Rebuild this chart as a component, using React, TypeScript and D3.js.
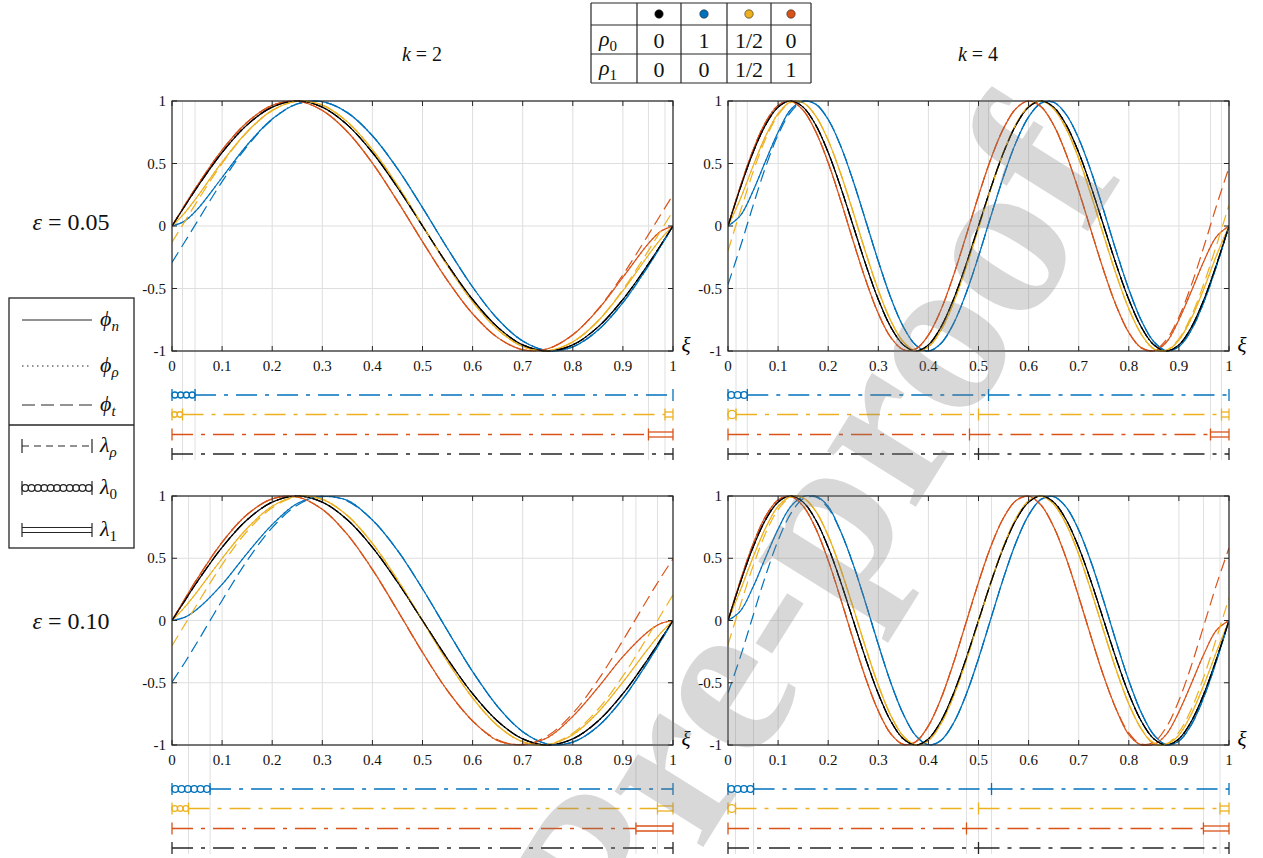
//@ts-nocheck
import * as d3 from "d3";
import { useEffect, useRef } from "react";

// sample positions along xi
const xiK2 = [0, 0.025, 0.05, 0.1, 0.15, 0.2, 0.25, 0.3, 0.35, 0.4, 0.45, 0.5, 0.55, 0.6, 0.65, 0.7, 0.75, 0.8, 0.85, 0.9, 0.95, 0.975, 1];
const xiK4 = d3.range(41).map(i => i / 40);

const xTicks = [0, 0.1, 0.2, 0.3, 0.4, 0.5, 0.6, 0.7, 0.8, 0.9, 1];
const xTickLabels = ["0", "0.1", "0.2", "0.3", "0.4", "0.5", "0.6", "0.7", "0.8", "0.9", "1"];
const yTicks = [-1, -0.5, 0, 0.5, 1];
const yTickLabels = ["-1", "-0.5", "0", "0.5", "1"];

// rho0 = rho1 = 0 (black)
const blackK2 = [0, 0.156, 0.309, 0.588, 0.809, 0.951, 1, 0.951, 0.809, 0.588, 0.309, 0, -0.309, -0.588, -0.809, -0.951, -1, -0.951, -0.809, -0.588, -0.309, -0.156, 0];
const blackK4 = [0, 0.309, 0.588, 0.809, 0.951, 1, 0.951, 0.809, 0.588, 0.309, 0, -0.309, -0.588, -0.809, -0.951, -1, -0.951, -0.809, -0.588, -0.309, 0, 0.309, 0.588, 0.809, 0.951, 1, 0.951, 0.809, 0.588, 0.309, 0, -0.309, -0.588, -0.809, -0.951, -1, -0.951, -0.809, -0.588, -0.309, 0];

// eps = 0.05, k = 2
const blueN_a2 = [0, 0.039, 0.131, 0.388, 0.648, 0.856, 0.978, 0.995, 0.907, 0.722, 0.459, 0.147, -0.18, -0.488, -0.744, -0.92, -0.997, -0.967, -0.834, -0.613, -0.324, -0.164, 0];
const blueT_a2 = [-0.291, -0.13, 0.033, 0.355, 0.637, 0.852, 0.976, 0.994, 0.907, 0.722, 0.459, 0.147, -0.18, -0.488, -0.744, -0.92, -0.997, -0.967, -0.834, -0.613, -0.324, -0.164, 0];
const yellowN_a2 = [0, 0.103, 0.232, 0.511, 0.754, 0.925, 0.998, 0.967, 0.833, 0.611, 0.325, 0.004, -0.318, -0.606, -0.828, -0.964, -0.998, -0.927, -0.762, -0.518, -0.238, -0.107, 0];
const yellowT_a2 = [-0.13, 0.033, 0.195, 0.5, 0.751, 0.923, 0.998, 0.967, 0.833, 0.611, 0.325, 0.004, -0.318, -0.606, -0.828, -0.964, -0.998, -0.927, -0.76, -0.508, -0.203, -0.042, 0.121];
const redN_a2 = [0, 0.163, 0.321, 0.608, 0.83, 0.965, 0.998, 0.925, 0.754, 0.503, 0.199, -0.125, -0.437, -0.702, -0.893, -0.99, -0.982, -0.87, -0.671, -0.41, -0.145, -0.044, 0];
const redT_a2 = [0, 0.163, 0.321, 0.608, 0.83, 0.965, 0.998, 0.925, 0.754, 0.503, 0.199, -0.125, -0.437, -0.702, -0.893, -0.99, -0.982, -0.87, -0.666, -0.391, -0.075, 0.088, 0.249];

// eps = 0.05, k = 4
const blueN_a4 = [0, 0.085, 0.28, 0.52, 0.75, 0.93, 0.999, 0.975, 0.852, 0.639, 0.358, 0.04, -0.282, -0.575, -0.807, -0.954, -1, -0.94, -0.782, -0.54, -0.242, 0.082, 0.397, 0.671, 0.873, 0.983, 0.99, 0.892, 0.7, 0.434, 0.122, -0.203, -0.506, -0.756, -0.926, -0.998, -0.965, -0.83, -0.607, -0.321, 0];
const blueT_a4 = [-0.469, -0.162, 0.163, 0.471, 0.729, 0.91, 0.995, 0.975, 0.852, 0.639, 0.358, 0.04, -0.282, -0.575, -0.807, -0.954, -1, -0.94, -0.782, -0.54, -0.242, 0.082, 0.397, 0.671, 0.873, 0.983, 0.99, 0.892, 0.7, 0.434, 0.122, -0.203, -0.506, -0.756, -0.926, -0.998, -0.965, -0.83, -0.607, -0.321, 0];
const yellowN_a4 = [0, 0.22, 0.479, 0.719, 0.899, 0.993, 0.986, 0.881, 0.685, 0.418, 0.108, -0.214, -0.513, -0.759, -0.927, -0.998, -0.966, -0.834, -0.615, -0.333, -0.016, 0.303, 0.59, 0.816, 0.957, 1, 0.938, 0.779, 0.54, 0.244, -0.077, -0.39, -0.662, -0.866, -0.985, -0.997, -0.912, -0.738, -0.5, -0.236, 0];
const yellowT_a4 = [-0.199, 0.122, 0.431, 0.696, 0.888, 0.988, 0.986, 0.881, 0.685, 0.418, 0.108, -0.214, -0.513, -0.759, -0.927, -0.998, -0.966, -0.834, -0.615, -0.333, -0.016, 0.303, 0.59, 0.816, 0.957, 1, 0.938, 0.779, 0.54, 0.244, -0.077, -0.39, -0.662, -0.866, -0.98, -0.992, -0.902, -0.718, -0.46, -0.154, 0.168];
const redN_a4 = [0, 0.321, 0.607, 0.83, 0.965, 0.998, 0.926, 0.756, 0.506, 0.203, -0.122, -0.434, -0.7, -0.892, -0.99, -0.983, -0.873, -0.671, -0.397, -0.082, 0.242, 0.54, 0.781, 0.94, 1, 0.954, 0.807, 0.575, 0.282, -0.04, -0.358, -0.639, -0.852, -0.975, -0.999, -0.93, -0.75, -0.52, -0.28, -0.085, 0];
const redT_a4 = [0, 0.321, 0.607, 0.83, 0.965, 0.998, 0.926, 0.756, 0.506, 0.203, -0.122, -0.434, -0.7, -0.892, -0.99, -0.983, -0.873, -0.671, -0.397, -0.082, 0.242, 0.54, 0.781, 0.94, 1, 0.954, 0.807, 0.575, 0.282, -0.04, -0.358, -0.639, -0.852, -0.975, -0.995, -0.91, -0.729, -0.471, -0.163, 0.162, 0.469];

// eps = 0.10, k = 2
const blueN_b2 = [0, 0.025, 0.09, 0.29, 0.54, 0.77, 0.94, 0.995, 0.965, 0.807, 0.564, 0.255, -0.082, -0.41, -0.691, -0.893, -0.992, -0.977, -0.851, -0.628, -0.332, -0.169, 0];
const blueT_b2 = [-0.495, -0.341, -0.177, 0.161, 0.481, 0.746, 0.926, 0.999, 0.958, 0.807, 0.564, 0.255, -0.082, -0.41, -0.691, -0.893, -0.992, -0.977, -0.851, -0.628, -0.332, -0.169, 0];
const yellowN_b2 = [0, 0.105, 0.23, 0.498, 0.741, 0.918, 0.998, 0.973, 0.843, 0.619, 0.327, -0.002, -0.33, -0.622, -0.845, -0.974, -0.995, -0.917, -0.739, -0.495, -0.228, -0.104, 0];
const yellowT_b2 = [-0.203, -0.037, 0.13, 0.449, 0.717, 0.906, 0.995, 0.973, 0.843, 0.619, 0.327, -0.002, -0.33, -0.622, -0.845, -0.974, -0.995, -0.905, -0.715, -0.446, -0.127, 0.04, 0.206];
const redN_b2 = [0, 0.169, 0.332, 0.628, 0.851, 0.977, 0.992, 0.893, 0.691, 0.41, 0.082, -0.255, -0.564, -0.807, -0.965, -0.995, -0.94, -0.77, -0.54, -0.29, -0.09, -0.025, 0];
const redT_b2 = [0, 0.169, 0.334, 0.629, 0.852, 0.978, 0.992, 0.892, 0.689, 0.408, 0.08, -0.257, -0.565, -0.807, -0.958, -0.999, -0.925, -0.746, -0.48, -0.16, 0.177, 0.341, 0.495];

// eps = 0.10, k = 4
const blueN_b4 = [0, 0.078, 0.269, 0.506, 0.734, 0.914, 0.995, 0.999, 0.916, 0.714, 0.449, 0.136, -0.192, -0.5, -0.753, -0.926, -0.998, -0.963, -0.825, -0.598, -0.306, 0.019, 0.342, 0.628, 0.846, 0.973, 0.995, 0.91, 0.727, 0.466, 0.155, -0.173, -0.483, -0.74, -0.918, -0.997, -0.968, -0.836, -0.613, -0.324, 0];
const blueT_b4 = [-0.582, -0.288, 0.038, 0.36, 0.642, 0.856, 0.977, 0.993, 0.902, 0.714, 0.449, 0.136, -0.192, -0.5, -0.753, -0.926, -0.998, -0.963, -0.825, -0.598, -0.306, 0.019, 0.342, 0.628, 0.846, 0.973, 0.995, 0.91, 0.727, 0.466, 0.155, -0.173, -0.483, -0.74, -0.918, -0.997, -0.968, -0.836, -0.613, -0.324, 0];
const yellowN_b4 = [0, 0.246, 0.508, 0.743, 0.917, 0.995, 0.985, 0.878, 0.68, 0.412, 0.101, -0.221, -0.519, -0.764, -0.93, -0.999, -0.964, -0.829, -0.608, -0.325, -0.007, 0.311, 0.597, 0.821, 0.96, 0.999, 0.935, 0.773, 0.531, 0.234, -0.087, -0.399, -0.67, -0.871, -0.991, -0.995, -0.921, -0.75, -0.516, -0.252, 0];
const yellowT_b4 = [-0.194, 0.128, 0.437, 0.7, 0.891, 0.989, 0.985, 0.878, 0.68, 0.412, 0.101, -0.221, -0.519, -0.764, -0.93, -0.999, -0.964, -0.829, -0.608, -0.325, -0.007, 0.311, 0.597, 0.821, 0.96, 0.999, 0.935, 0.773, 0.531, 0.234, -0.087, -0.399, -0.67, -0.871, -0.982, -0.991, -0.897, -0.71, -0.449, -0.142, 0.181];
const redN_b4 = [0, 0.324, 0.613, 0.836, 0.968, 0.997, 0.918, 0.74, 0.483, 0.173, -0.155, -0.466, -0.727, -0.91, -0.995, -0.973, -0.846, -0.628, -0.342, -0.019, 0.306, 0.598, 0.825, 0.963, 0.998, 0.926, 0.753, 0.5, 0.192, -0.136, -0.449, -0.714, -0.916, -0.999, -0.995, -0.914, -0.734, -0.506, -0.269, -0.078, 0];
const redT_b4 = [0, 0.324, 0.613, 0.836, 0.968, 0.997, 0.918, 0.74, 0.483, 0.173, -0.155, -0.466, -0.727, -0.91, -0.995, -0.973, -0.846, -0.628, -0.342, -0.019, 0.306, 0.598, 0.825, 0.963, 0.998, 0.926, 0.753, 0.5, 0.192, -0.136, -0.449, -0.714, -0.902, -0.993, -0.977, -0.856, -0.642, -0.36, -0.038, 0.288, 0.582];

// interval bars under each panel, rows: blue, yellow, red, black
// c = lambda_0 (coil), r = lambda_rho (dash-dot), d = lambda_1 (double)
const cutsA2 = [[0, 0.046, 1], [0, 0.021, 0.984, 1], [0, 0.951, 1], [0, 1]];
const kindsA2 = [["c", "r"], ["c", "r", "d"], ["r", "d"], ["r"]];
const cutsA4 = [[0, 0.0385, 0.52, 1], [0, 0.016, 0.5, 0.985, 1], [0, 0.482, 0.963, 1], [0, 0.5, 1]];
const kindsA4 = [["c", "r", "r"], ["c", "r", "r", "d"], ["r", "r", "d"], ["r", "r"]];
const cutsB2 = [[0, 0.076, 1], [0, 0.033, 0.969, 1], [0, 0.926, 1], [0, 1]];
const kindsB2 = [["c", "r"], ["c", "r", "d"], ["r", "d"], ["r"]];
const cutsB4 = [[0, 0.051, 0.526, 1], [0, 0.015, 0.5, 0.982, 1], [0, 0.476, 0.949, 1], [0, 0.5, 1]];
const kindsB4 = [["c", "r", "r"], ["c", "r", "r", "d"], ["r", "r", "d"], ["r", "r"]];

// table at the top
const tableColors = ["#000000", "#0072BD", "#EDB120", "#D95319"];
const rho0Row = ["0", "1", "1/2", "0"];
const rho1Row = ["0", "0", "1/2", "1"];

const blue = "#0072BD", yellow = "#EDB120", red = "#D95319", black = "#000000";
const rowColors = [blue, yellow, red, "#262626"];
const serif = "Liberation Serif, Times New Roman, DejaVu Serif, serif";
const axisCol = "#262626";

function coil(g, a, b, yy) {
    const n = Math.max(1, Math.round((b - a) / 6.5));
    const d = (b - a) / n;
    d3.range(n).forEach(i => {
        g.append("circle").attr("cx", a + d * (i + 0.5)).attr("cy", yy).attr("r", d * 0.52);
    });
}

function drawPanel(svg, o) {
    const w = 501;
    const { left, top, h, xi, nLines, tLines, cuts, kinds, id } = o;
    const x = d3.scaleLinear().domain([0, 1]).range([left, left + w]);
    const y = d3.scaleLinear().domain([-1, 1]).range([top + h, top]);
    const g = svg.append("g");

    // grid
    g.append("g").selectAll("line").data(xTicks).join("line")
        .attr("x1", d => x(d)).attr("x2", d => x(d)).attr("y1", top).attr("y2", top + h)
        .attr("stroke", "#dedede").attr("stroke-width", 1);
    g.append("g").selectAll("line").data(yTicks).join("line")
        .attr("x1", left).attr("x2", left + w).attr("y1", d => y(d)).attr("y2", d => y(d))
        .attr("stroke", "#dedede").attr("stroke-width", 1);

    // light lines through the interval end points
    const marks = Array.from(new Set(cuts.flat())).filter(c => c > 0 && c < 1);
    g.append("g").selectAll("line").data(marks).join("line")
        .attr("x1", d => x(d)).attr("x2", d => x(d)).attr("y1", top).attr("y2", top + h + 109)
        .attr("stroke", "#e0e0e0").attr("stroke-width", 1);

    svg.append("clipPath").attr("id", id).append("rect")
        .attr("x", left).attr("y", top - 1).attr("width", w).attr("height", h + 2);

    const line = d3.line().x((d, i) => x(xi[i])).y(d => y(d)).curve(d3.curveCatmullRom.alpha(0.5));
    const cg = g.append("g").attr("clip-path", `url(#${id})`).attr("fill", "none");
    const colors = [blue, yellow, red, black];
    const order = [0, 2, 1, 3];
    order.forEach(k => {
        cg.append("path").attr("d", line(nLines[k])).attr("stroke", colors[k]).attr("stroke-width", 1.2);
    });
    order.forEach(k => {
        cg.append("path").attr("d", line(nLines[k])).attr("stroke", colors[k]).attr("stroke-width", 1.2)
            .attr("stroke-dasharray", "1.5,3");
    });
    order.forEach(k => {
        cg.append("path").attr("d", line(tLines[k])).attr("stroke", colors[k]).attr("stroke-width", 1.2)
            .attr("stroke-dasharray", "12,6");
    });

    // box and ticks
    g.append("rect").attr("x", left).attr("y", top).attr("width", w).attr("height", h)
        .attr("fill", "none").attr("stroke", axisCol).attr("stroke-width", 1.2);
    const tk = g.append("g").attr("stroke", axisCol).attr("stroke-width", 1);
    xTicks.forEach(t => {
        tk.append("line").attr("x1", x(t)).attr("x2", x(t)).attr("y1", top + h).attr("y2", top + h - 5);
        tk.append("line").attr("x1", x(t)).attr("x2", x(t)).attr("y1", top).attr("y2", top + 5);
    });
    yTicks.forEach(t => {
        tk.append("line").attr("x1", left).attr("x2", left + 5).attr("y1", y(t)).attr("y2", y(t));
        tk.append("line").attr("x1", left + w).attr("x2", left + w - 5).attr("y1", y(t)).attr("y2", y(t));
    });

    g.append("g").selectAll("text").data(xTicks).join("text")
        .attr("x", d => x(d)).attr("y", top + h + 20).attr("text-anchor", "middle")
        .attr("font-family", serif).attr("font-size", 15).attr("fill", "#111")
        .text((d, i) => xTickLabels[i]);
    g.append("g").selectAll("text").data(yTicks).join("text")
        .attr("x", left - 6).attr("y", d => y(d) + 5).attr("text-anchor", "end")
        .attr("font-family", serif).attr("font-size", 15).attr("fill", "#111")
        .text((d, i) => yTickLabels[i]);
    g.append("text").attr("x", left + w + 13).attr("y", top + h + 1).attr("text-anchor", "middle")
        .attr("font-family", serif).attr("font-size", 21).attr("font-style", "italic").text("ξ");

    // interval rows
    const rowOff = [44, 63.5, 83.5, 103];
    cuts.forEach((cs, r) => {
        const yy = top + h + rowOff[r];
        const ig = g.append("g").attr("stroke", rowColors[r]).attr("fill", "none").attr("stroke-width", 1.3);
        kinds[r].forEach((kd, j) => {
            const a = x(cs[j]), b = x(cs[j + 1]);
            if (kd === "r") {
                ig.append("line").attr("x1", a).attr("x2", b).attr("y1", yy).attr("y2", yy)
                    .attr("stroke-dasharray", "21,8,4,8");
            } else if (kd === "d") {
                ig.append("line").attr("x1", a).attr("x2", b).attr("y1", yy - 2.5).attr("y2", yy - 2.5);
                ig.append("line").attr("x1", a).attr("x2", b).attr("y1", yy + 2.5).attr("y2", yy + 2.5);
            } else {
                coil(ig, a, b, yy);
            }
        });
        cs.forEach(c => {
            ig.append("line").attr("x1", x(c)).attr("x2", x(c)).attr("y1", yy - 6).attr("y2", yy + 6);
        });
    });
}

function drawLegend(svg) {
    const g = svg.append("g");
    g.append("rect").attr("x", 9).attr("y", 298).attr("width", 125).attr("height", 250)
        .attr("fill", "white").attr("stroke", axisCol).attr("stroke-width", 1.3);
    g.append("line").attr("x1", 9).attr("x2", 134).attr("y1", 425).attr("y2", 425)
        .attr("stroke", axisCol).attr("stroke-width", 1.5);
    const x0 = 22, x1 = 92;
    const s = g.append("g").attr("stroke", axisCol).attr("fill", "none").attr("stroke-width", 1.2);
    s.append("line").attr("x1", x0).attr("x2", x1).attr("y1", 320).attr("y2", 320);
    s.append("line").attr("x1", x0).attr("x2", x1).attr("y1", 366).attr("y2", 366).attr("stroke-dasharray", "1.5,3.5");
    s.append("line").attr("x1", x0).attr("x2", x1).attr("y1", 405).attr("y2", 405).attr("stroke-dasharray", "13,6");
    s.append("line").attr("x1", x0).attr("x2", x1).attr("y1", 446).attr("y2", 446).attr("stroke-dasharray", "7,5");
    coil(s, x0, x1, 488);
    s.append("line").attr("x1", x0).attr("x2", x1).attr("y1", 527.5).attr("y2", 527.5);
    s.append("line").attr("x1", x0).attr("x2", x1).attr("y1", 532.5).attr("y2", 532.5);
    [446, 488, 530].forEach(yy => {
        [x0, x1].forEach(xx => s.append("line").attr("x1", xx).attr("x2", xx).attr("y1", yy - 7).attr("y2", yy + 7));
    });
    const labels = [["ϕ", "n", 320], ["ϕ", "ρ", 366], ["ϕ", "t", 405], ["λ", "ρ", 446], ["λ", "0", 488], ["λ", "1", 530]];
    labels.forEach(([m, sub, yy]) => {
        const t = g.append("text").attr("x", 100).attr("y", yy + 6)
            .attr("font-family", serif).attr("font-size", 22).attr("fill", "#111");
        t.append("tspan").attr("font-style", "italic").text(m);
        t.append("tspan").attr("dy", 5).attr("font-size", 15)
            .attr("font-style", /[0-9]/.test(sub) ? "normal" : "italic").text(sub);
    });
}

function drawTable(svg) {
    const g = svg.append("g");
    const colX = [591, 637, 681, 727, 771, 811];
    const rowY = [3, 25, 54, 83];
    const st = g.append("g").attr("stroke", axisCol).attr("stroke-width", 1.2);
    colX.forEach(cx => st.append("line").attr("x1", cx).attr("x2", cx).attr("y1", rowY[0]).attr("y2", rowY[3]));
    rowY.forEach(ry => st.append("line").attr("x1", colX[0]).attr("x2", colX[5]).attr("y1", ry).attr("y2", ry));
    const mid = d3.range(4).map(i => (colX[i + 1] + colX[i + 2]) / 2);
    tableColors.forEach((c, i) => {
        g.append("circle").attr("cx", mid[i]).attr("cy", 14).attr("r", 4.2).attr("fill", c)
            .attr("stroke", "#222").attr("stroke-width", 0.6);
    });
    [[rho0Row, "0", 39.5], [rho1Row, "1", 68.5]].forEach(([vals, sub, cy]) => {
        const t = g.append("text").attr("x", 599).attr("y", cy + 6)
            .attr("font-family", serif).attr("font-size", 22).attr("fill", "#111");
        t.append("tspan").attr("font-style", "italic").text("ρ");
        t.append("tspan").attr("dy", 5).attr("font-size", 15).text(sub);
        vals.forEach((v, i) => {
            g.append("text").attr("x", mid[i]).attr("y", cy + 8).attr("text-anchor", "middle")
                .attr("font-family", serif).attr("font-size", 22).attr("fill", "#111").text(v);
        });
    });
}

export default function App() {
    const svgRef = useRef(null);

    useEffect(() => {
        const svg = d3.select(svgRef.current);
        svg.selectAll("*").remove();

        const panels = [
            { id: "cA2", left: 172, top: 101, h: 250, xi: xiK2, nLines: [blueN_a2, yellowN_a2, redN_a2, blackK2], tLines: [blueT_a2, yellowT_a2, redT_a2, blackK2], cuts: cutsA2, kinds: kindsA2 },
            { id: "cA4", left: 728, top: 101, h: 250, xi: xiK4, nLines: [blueN_a4, yellowN_a4, redN_a4, blackK4], tLines: [blueT_a4, yellowT_a4, redT_a4, blackK4], cuts: cutsA4, kinds: kindsA4 },
            { id: "cB2", left: 172, top: 496, h: 249, xi: xiK2, nLines: [blueN_b2, yellowN_b2, redN_b2, blackK2], tLines: [blueT_b2, yellowT_b2, redT_b2, blackK2], cuts: cutsB2, kinds: kindsB2 },
            { id: "cB4", left: 728, top: 496, h: 249, xi: xiK4, nLines: [blueN_b4, yellowN_b4, redN_b4, blackK4], tLines: [blueT_b4, yellowT_b4, redT_b4, blackK4], cuts: cutsB4, kinds: kindsB4 },
        ];
        panels.forEach(p => drawPanel(svg, p));

        // column and row titles
        [["2", 422], ["4", 978]].forEach(([k, cx]) => {
            const t = svg.append("text").attr("x", cx).attr("y", 61).attr("text-anchor", "middle")
                .attr("font-family", serif).attr("font-size", 20).attr("fill", "#111");
            t.append("tspan").attr("font-style", "italic").text("k");
            t.append("tspan").text(` = ${k}`);
        });
        [["0.05", 230], ["0.10", 629]].forEach(([e, cy]) => {
            const t = svg.append("text").attr("x", 71).attr("y", cy).attr("text-anchor", "middle")
                .attr("font-family", serif).attr("font-size", 24).attr("fill", "#111");
            t.append("tspan").attr("font-style", "italic").text("ε");
            t.append("tspan").text(` = ${e}`);
        });

        drawLegend(svg);
        drawTable(svg);

        // watermark
        svg.append("text").attr("transform", "translate(1125,172) rotate(-58)")
            .attr("text-anchor", "end")
            .attr("font-family", serif).attr("font-weight", "bold").attr("font-size", 228)
            .attr("fill", "#808080").attr("opacity", 0.3).text("Journal Pre-proof");
    }, []);

    return (
        <svg ref={svgRef} width={1263} height={858}
            style={{ position: "absolute", left: 0, top: 0, background: "white" }} />
    );
}
